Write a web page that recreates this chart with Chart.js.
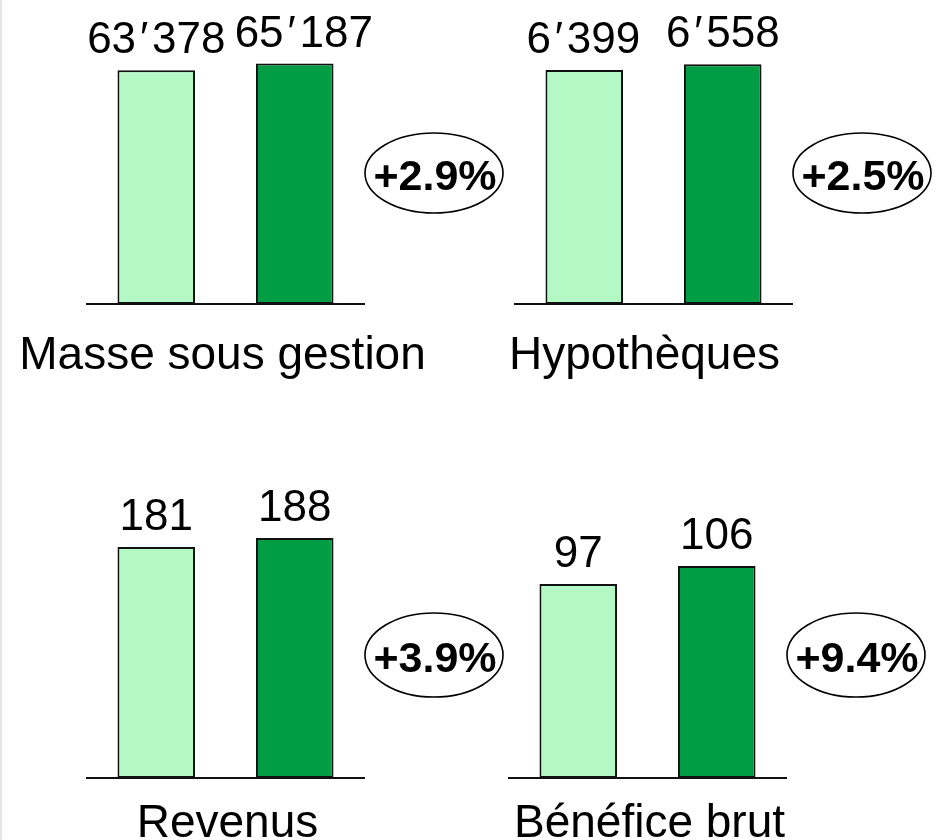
<!DOCTYPE html>
<html>
<head>
<meta charset="utf-8">
<script src="https://cdn.jsdelivr.net/npm/chart.js@4/dist/chart.umd.min.js"></script>
<style>
  html, body { margin: 0; padding: 0; background: #ffffff; overflow: hidden; }
  #wrap { position: relative; width: 936px; height: 840px; background: #ffffff; border-left: 2px solid #e6e6e6; box-sizing: border-box; overflow: hidden; }
  #wrap canvas { position: absolute; }
</style>
</head>
<body>
<div id="wrap"></div>
<script>
// ---- Data ----
const panelNames = ['Masse sous gestion', 'Hypothèques', 'Revenus', 'Bénéfice brut'];
const seriesNames = ['Période précédente', 'Période actuelle'];
const previousValues = [63378, 6399, 181, 97];
const currentValues = [65187, 6558, 188, 106];
const changeLabels = ['+2.9%', '+2.5%', '+3.9%', '+9.4%'];
const axisMax = [77000, 7765, 222.5, 142];

// ---- Style / layout ----
const lightGreen = '#b3f8c5';
const darkGreen = '#009d44';
const FONT = '"Liberation Sans", Arial, Helvetica, sans-serif';
const AREA_W = 277, AREA_H = 284, PAD_L = 87, PAD_T = 20;
const layouts = [
  { left: 87,  baseline: 304, labelDy: 65, labelDx: -3, valueDx: [0, 9], ellDy: 131, ry: 40 },
  { left: 515, baseline: 304, labelDy: 65, labelDx: -9, valueDx: [-1, 0], ellDy: 131, ry: 40 },
  { left: 87,  baseline: 778, labelDy: 59, labelDx: 2,  valueDx: [0, 0], ellDy: 123, ry: 42 },
  { left: 509, baseline: 778, labelDy: 59, labelDx: 2,  valueDx: [0, 0], ellDy: 123, ry: 42 }
];

const SEP = '\u2032';
function fmt(v) {
  return String(v).replace(/\B(?=(\d{3})+(?!\d))/g, SEP);
}

// draw a number with a wider slot for the thousands separator
function drawNumber(ctx, text, cx, y, size) {
  const parts = text.split(SEP);
  const slot = 0.36 * size;
  const widths = parts.map(p => ctx.measureText(p).width);
  const total = widths.reduce((a, b) => a + b, 0) + slot * (parts.length - 1);
  let x = cx - total / 2;
  ctx.textAlign = 'left';
  parts.forEach((p, k) => {
    ctx.fillText(p, x, y);
    x += widths[k];
    if (k < parts.length - 1) {
      ctx.textAlign = 'center';
      ctx.fillText(SEP, x + slot / 2, y);
      ctx.textAlign = 'left';
      x += slot;
    }
  });
}

const valueLabelPlugin = {
  id: 'valueLabels',
  afterDatasetsDraw(chart, args, opts) {
    const ctx = chart.ctx;
    ctx.save();
    ctx.font = '44px ' + FONT;
    ctx.fillStyle = '#000';
    ctx.textBaseline = 'alphabetic';
    chart.data.datasets.forEach((ds, di) => {
      const meta = chart.getDatasetMeta(di);
      meta.data.forEach((el, i) => {
        drawNumber(ctx, fmt(ds.data[i]), el.x + opts.dx[di], el.y - 17, 44);
      });
    });
    ctx.restore();
  }
};

const categoryLabelPlugin = {
  id: 'categoryLabel',
  afterDraw(chart, args, opts) {
    const ctx = chart.ctx;
    const a = chart.chartArea;
    ctx.save();
    ctx.font = '46px ' + FONT;
    ctx.fillStyle = '#000';
    ctx.textAlign = 'center';
    ctx.textBaseline = 'alphabetic';
    const xs = chart.scales.x;
    ctx.fillText(chart.data.labels[0], xs.getPixelForTick(0) + opts.dx, a.bottom + opts.dy);
    ctx.restore();
  }
};

const changePlugin = {
  id: 'changeEllipse',
  afterDraw(chart, args, opts) {
    const ctx = chart.ctx;
    const a = chart.chartArea;
    const cx = a.right + 70;
    const cy = a.bottom - opts.dy;
    ctx.save();
    ctx.beginPath();
    ctx.ellipse(cx, cy, 69, opts.ry, 0, 0, Math.PI * 2);
    ctx.fillStyle = '#ffffff';
    ctx.fill();
    ctx.lineWidth = 1.6;
    ctx.strokeStyle = '#000';
    ctx.stroke();
    ctx.font = 'bold 43px ' + FONT;
    ctx.fillStyle = '#000';
    ctx.textAlign = 'center';
    ctx.textBaseline = 'middle';
    ctx.fillText(opts.text, cx + 1, cy + 5);
    ctx.restore();
  }
};

const wrap = document.getElementById('wrap');
layouts.forEach((L, i) => {
  const canvas = document.createElement('canvas');
  const cLeft = L.left - PAD_L - 2;
  const cTop = L.baseline - AREA_H - PAD_T;
  const cWidth = 936 - cLeft;
  const cHeight = Math.min(420, 840 - cTop);
  canvas.width = cWidth;
  canvas.height = cHeight;
  canvas.style.left = cLeft + 'px';
  canvas.style.top = cTop + 'px';
  canvas.style.width = cWidth + 'px';
  canvas.style.height = cHeight + 'px';
  wrap.appendChild(canvas);

  new Chart(canvas.getContext('2d'), {
    type: 'bar',
    data: {
      labels: [panelNames[i]],
      datasets: [
        { label: seriesNames[0], data: [previousValues[i]], backgroundColor: lightGreen, borderColor: '#111', borderWidth: 2, borderSkipped: false },
        { label: seriesNames[1], data: [currentValues[i]], backgroundColor: darkGreen, borderColor: '#111', borderWidth: 2, borderSkipped: false }
      ]
    },
    options: {
      responsive: false,
      animation: false,
      devicePixelRatio: 1,
      layout: {
        padding: {
          left: PAD_L,
          top: PAD_T,
          right: cWidth - PAD_L - AREA_W,
          bottom: cHeight - PAD_T - AREA_H
        }
      },
      datasets: { bar: { categoryPercentage: 1.0, barPercentage: 0.56 } },
      scales: {
        x: {
          grid: { display: false, drawTicks: false },
          border: { display: true, color: '#111', width: 2 },
          ticks: { display: false },
          afterFit(scale) { scale.height = 0; }
        },
        y: { display: false, min: 0, max: axisMax[i] }
      },
      plugins: {
        legend: { display: false },
        tooltip: { enabled: false },
        valueLabels: { dx: L.valueDx },
        categoryLabel: { dy: L.labelDy, dx: L.labelDx },
        changeEllipse: { text: changeLabels[i], dy: L.ellDy, ry: L.ry }
      }
    },
    plugins: [valueLabelPlugin, categoryLabelPlugin, changePlugin]
  });
});
</script>
</body>
</html>
